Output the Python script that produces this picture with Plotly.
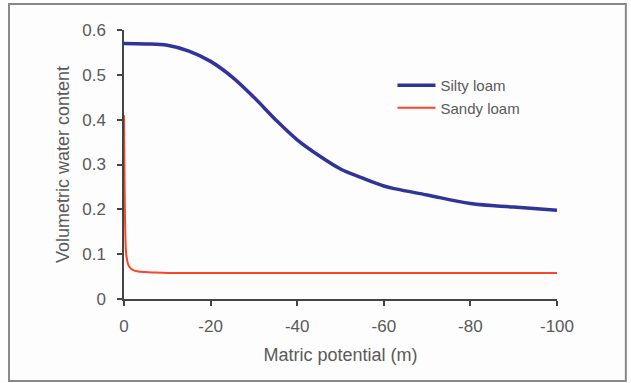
import plotly.graph_objects as go

silty_x = [0, -5, -10, -15, -20, -25, -30, -35, -40, -45, -50, -55, -60, -63, -70, -80, -90, -100]
silty_y = [0.570, 0.569, 0.566, 0.553, 0.530, 0.495, 0.450, 0.400, 0.355, 0.320, 0.290, 0.270, 0.252, 0.245, 0.232, 0.213, 0.205, 0.198]

sandy_x = [0, -0.1, -0.2, -0.35, -0.5, -0.75, -1, -1.5, -2, -3, -5, -7, -10, -20, -50, -100]
sandy_y = [0.410, 0.300, 0.200, 0.130, 0.100, 0.085, 0.076, 0.069, 0.065, 0.062, 0.060, 0.059, 0.058, 0.058, 0.058, 0.058]

x_ticks = [0, -20, -40, -60, -80, -100]
y_ticks = [0, 0.1, 0.2, 0.3, 0.4, 0.5, 0.6]

fig = go.Figure()
fig.add_trace(go.Scatter(x=silty_x, y=silty_y, mode="lines", name="Silty loam",
                         line=dict(color="#30339A", width=3.5, shape="spline")))
fig.add_trace(go.Scatter(x=sandy_x, y=sandy_y, mode="lines", name="Sandy loam",
                         line=dict(color="#FF4426", width=2, shape="spline")))

fam = "Liberation Sans, Arial, sans-serif"
fig.update_layout(
    width=631, height=383,
    margin=dict(l=124, r=74, t=30, b=84),
    paper_bgcolor="#FDFDFD", plot_bgcolor="#FDFDFD",
    font=dict(family=fam, size=18, color="#5A5A5A"),
    showlegend=True,
    legend=dict(x=0.62, y=0.855, xanchor="left", yanchor="top",
                bgcolor="rgba(0,0,0,0)", font=dict(size=15, color="#5A5A5A"),
                tracegroupgap=0, itemwidth=38),
    xaxis=dict(range=[0, -100], tickvals=x_ticks, ticktext=[str(v) for v in x_ticks],
               showgrid=False, zeroline=False, showline=True, linecolor="#444444", linewidth=1.5,
               ticks="outside", ticklen=5, tickcolor="#444444", tickwidth=1.5,
               tickfont=dict(size=17), ticklabelstandoff=6,
               title=dict(text="Matric potential (m)", font=dict(size=18), standoff=13)),
    yaxis=dict(range=[0, 0.6], tickvals=y_ticks, ticktext=["0", "0.1", "0.2", "0.3", "0.4", "0.5", "0.6"],
               showgrid=False, zeroline=False, showline=True, linecolor="#444444", linewidth=1.5,
               ticks="outside", ticklen=5, tickcolor="#444444", tickwidth=1.5,
               tickfont=dict(size=17), ticklabelstandoff=8,
               title=dict(text="Volumetric water content", font=dict(size=18), standoff=8)),
    shapes=[dict(type="rect", xref="paper", yref="paper", x0=-0.2656, x1=1.159, y0=-0.305, y1=1.097,
                 line=dict(color="#888888", width=2), fillcolor="rgba(0,0,0,0)", layer="above")],
)
fig.write_html("out.html", config={"displayModeBar": False},
               post_script="document.body.style.margin='0';document.body.style.overflow='hidden';")
